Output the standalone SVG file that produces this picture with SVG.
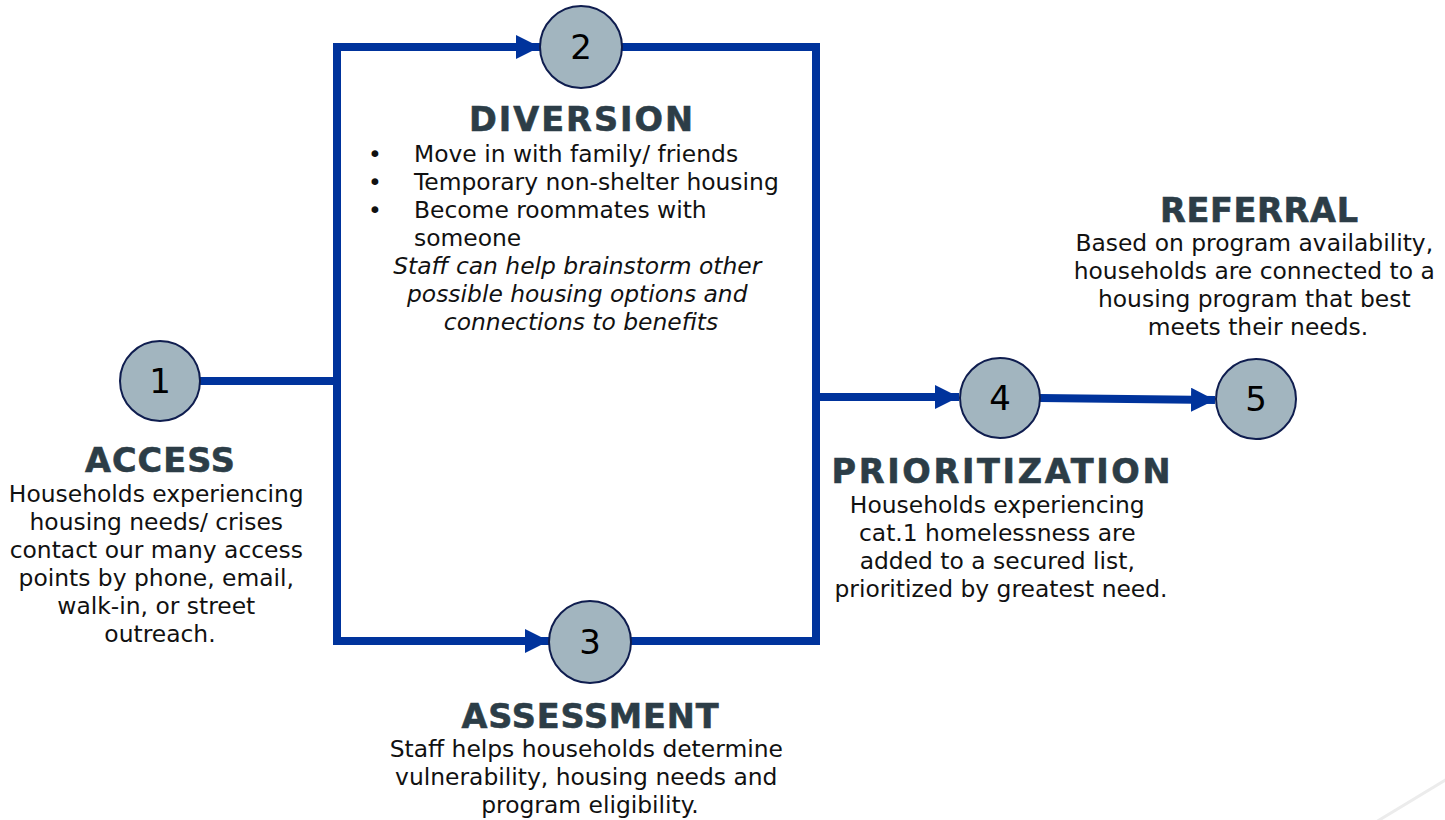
<svg xmlns="http://www.w3.org/2000/svg" width="1445" height="820" viewBox="0 0 1445 820">
  <style>
    .step circle { fill: #a2b5bf; stroke: #0f1d4f; stroke-width: 2; }
    .num { font-family: "DejaVu Sans", Verdana, sans-serif; font-size: 34px; fill: #000; text-anchor: middle; }
    .title { font-family: "DejaVu Sans", Verdana, sans-serif; font-weight: bold; font-size: 33.5px; fill: #2c3d47; text-anchor: middle; stroke: #2c3d47; stroke-width: 0.6; }
    .body { font-family: "DejaVu Sans", Verdana, sans-serif; font-size: 23.4px; fill: #111; }
    .mid { text-anchor: middle; }
    .it { font-style: italic; }
    .wire { fill: none; stroke: #00339c; stroke-width: 8; stroke-linejoin: miter; }
  </style>
  <defs>
    <marker id="arrow" markerUnits="userSpaceOnUse" markerWidth="24" markerHeight="24" refX="24" refY="12" orient="auto" viewBox="0 0 24 24">
      <path d="M0,0 L24,12 L0,24 z" fill="#00339c"/>
    </marker>
  </defs>
  <rect width="1445" height="820" fill="#ffffff"/>

  <!-- faint corner decoration -->
  <line x1="1376" y1="822" x2="1447" y2="779" stroke="#ececec" stroke-width="3"/>

  <!-- connectors -->
  <g id="connectors">
    <path class="wire" d="M200,381 H337"/>
    <path class="wire" d="M337,385 V47 H540" marker-end="url(#arrow)"/>
    <path class="wire" d="M337,377 V641 H549" marker-end="url(#arrow)"/>
    <path class="wire" d="M622,47 H816 V641 H630"/>
    <path class="wire" d="M816,397 H959" marker-end="url(#arrow)"/>
    <path class="wire" d="M1040,398 L1215,400" marker-end="url(#arrow)"/>
  </g>

  <!-- step 1: access -->
  <g id="access" class="step">
    <circle cx="160" cy="381" r="40"/>
    <text class="num" x="160" y="393">1</text>
    <text class="title" x="160" y="472" textLength="150" lengthAdjust="spacing">ACCESS</text>
    <text class="body mid">
      <tspan x="160" y="502">Households experiencing</tspan>
      <tspan x="160" y="530">housing needs/ crises</tspan>
      <tspan x="160" y="558">contact our many access</tspan>
      <tspan x="160" y="586">points by phone, email,</tspan>
      <tspan x="160" y="614">walk-in, or street</tspan>
      <tspan x="160" y="642">outreach.</tspan>
    </text>
  </g>

  <!-- step 2: diversion -->
  <g id="diversion" class="step">
    <circle cx="581" cy="47" r="41"/>
    <text class="num" x="581" y="59">2</text>
    <text class="title" x="581" y="131" textLength="224" lengthAdjust="spacing">DIVERSION</text>
    <text class="body">
      <tspan x="368" y="162">•</tspan>
      <tspan x="368" y="190">•</tspan>
      <tspan x="368" y="218">•</tspan>
    </text>
    <text class="body">
      <tspan x="414" y="162">Move in with family/ friends</tspan>
      <tspan x="414" y="190">Temporary non-shelter housing</tspan>
      <tspan x="414" y="218">Become roommates with</tspan>
      <tspan x="414" y="246">someone</tspan>
    </text>
    <text class="body mid it">
      <tspan x="581" y="274">Staff can help brainstorm other</tspan>
      <tspan x="581" y="302">possible housing options and</tspan>
      <tspan x="581" y="330">connections to benefits</tspan>
    </text>
  </g>

  <!-- step 3: assessment -->
  <g id="assessment" class="step">
    <circle cx="590" cy="642" r="41"/>
    <text class="num" x="590" y="654">3</text>
    <text class="title" x="590" y="728" textLength="257" lengthAdjust="spacing">ASSESSMENT</text>
    <text class="body mid">
      <tspan x="590" y="757">Staff helps households determine</tspan>
      <tspan x="590" y="785">vulnerability, housing needs and</tspan>
      <tspan x="590" y="813">program eligibility.</tspan>
    </text>
  </g>

  <!-- step 4: prioritization -->
  <g id="prioritization" class="step">
    <circle cx="1000" cy="398" r="40"/>
    <text class="num" x="1000" y="410">4</text>
    <text class="title" x="1001" y="483" textLength="339" lengthAdjust="spacing">PRIORITIZATION</text>
    <text class="body mid">
      <tspan x="1001" y="513">Households experiencing</tspan>
      <tspan x="1001" y="541">cat.1 homelessness are</tspan>
      <tspan x="1001" y="569">added to a secured list,</tspan>
      <tspan x="1001" y="597">prioritized by greatest need.</tspan>
    </text>
  </g>

  <!-- step 5: referral -->
  <g id="referral" class="step">
    <circle cx="1256" cy="399" r="40"/>
    <text class="num" x="1256" y="411">5</text>
    <text class="title" x="1259" y="222" textLength="198" lengthAdjust="spacing">REFERRAL</text>
    <text class="body mid">
      <tspan x="1258" y="251">Based on program availability,</tspan>
      <tspan x="1258" y="279">households are connected to a</tspan>
      <tspan x="1258" y="307">housing program that best</tspan>
      <tspan x="1258" y="335">meets their needs.</tspan>
    </text>
  </g>
</svg>
